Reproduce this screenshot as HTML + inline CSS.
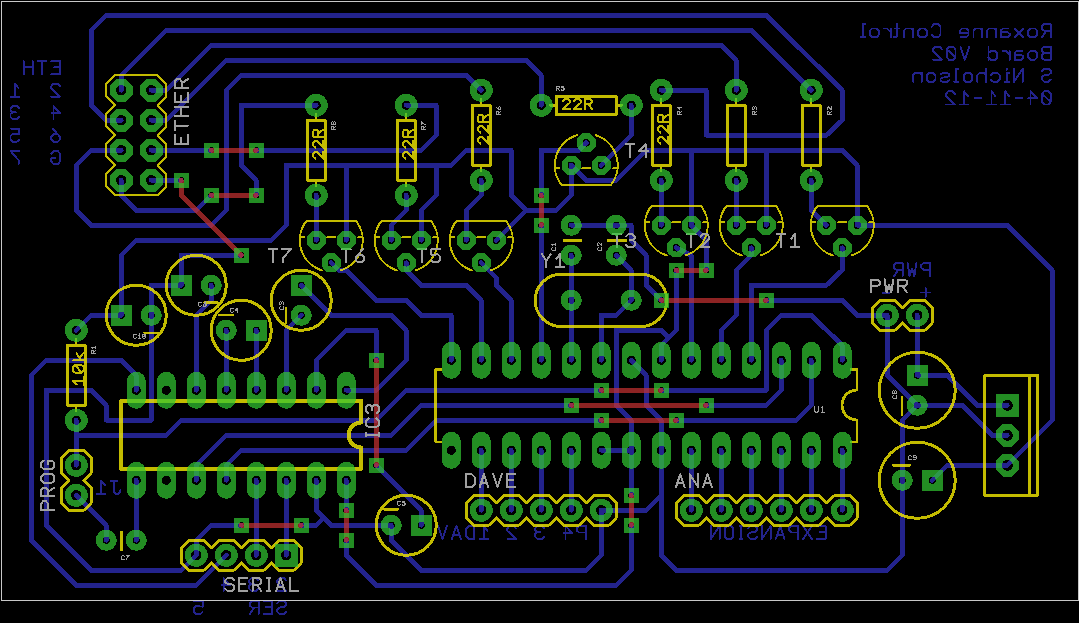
<!DOCTYPE html><html><head><meta charset="utf-8"><title>Roxanne Control Board V02</title>
<style>html,body{margin:0;padding:0;background:#000;overflow:hidden;font-family:"Liberation Sans",sans-serif}svg{display:block}</style></head><body>
<svg width="1079" height="623" viewBox="0 0 1079 623" shape-rendering="crispEdges">
<rect width="1079" height="623" fill="#000"/>
<g opacity="0.706" fill="none" stroke="#3232c8" stroke-width="4.8" stroke-linecap="round" stroke-linejoin="round"><path d="M121.25,120.3L106.25,120.3L91.25,105.3L91.25,30.3L106.25,15.3L766.25,15.3L842.25,90.3L842.25,120.3L826.25,135.3L706.25,135.3L706.25,90.3L661.25,90.3M121.25,90.3L121.25,75.3L166.25,30.3L751.25,30.3L811.25,90.3M151.25,90.3L166.25,90.3L211.25,45.3L721.25,45.3L736.25,60.3L736.25,90.3M151.25,120.3L166.25,120.3L226.25,60.3L526.25,60.3L541.25,75.3L541.25,105.3M481.25,90.3L466.25,75.3L241.25,75.3L226.25,90.3L226.25,210.3L211.25,225.3L91.25,225.3L76.25,210.3L76.25,165.3L91.25,150.3L121.25,150.3M316.25,105.3L241.25,105.3L241.25,165.3L256.25,180.3L256.25,195.3M151.25,150.3L211.25,150.3M151.25,180.3L181.25,180.3M121.25,180.3L121.25,195.3L136.25,210.3L196.25,210.3L211.25,195.3M256.25,150.3L421.25,150.3L436.25,135.3L436.25,105.3L406.25,105.3M121.25,315.3L121.25,255.3L136.25,240.3L271.25,240.3L286.25,225.3L286.25,165.3L451.25,165.3L466.25,150.3L511.25,150.3L511.25,195.3L526.25,210.3L556.25,210.3L571.25,195.3L571.25,165.3M346.25,165.3L346.25,240.3M436.25,165.3L436.25,195.3L421.25,210.3L421.25,240.3M526.25,210.3L496.25,240.3M316.25,195.3L316.25,240.3M406.25,195.3L406.25,210.3L391.25,225.3L391.25,240.3M481.25,180.3L481.25,195.3L466.25,210.3L466.25,240.3M241.25,255.3L181.25,255.3L181.25,285.3L151.25,285.3L151.25,420.3L106.25,420.3L106.25,405.3L91.25,390.3L46.25,390.3L46.25,525.3L91.25,570.3L181.25,570.3L196.25,555.3M76.25,330.3L91.25,315.3L121.25,315.3M136.25,390.3L136.25,375.3L121.25,360.3L46.25,360.3L31.25,375.3L31.25,540.3L76.25,585.3L196.25,585.3L226.25,555.3M211.25,285.3L211.25,300.3L196.25,315.3L196.25,390.3M226.25,330.3L226.25,390.3M256.25,330.3L256.25,390.3M76.25,420.3L76.25,465.3M76.25,435.3L166.25,435.3L181.25,420.3L376.25,420.3L406.25,390.3L601.25,390.3M76.25,495.3L106.25,525.3L106.25,540.3M136.25,540.3L136.25,480.3M196.25,480.3L196.25,465.3L226.25,435.3L391.25,435.3L421.25,405.3L571.25,405.3M226.25,480.3L226.25,465.3L241.25,450.3L406.25,450.3L436.25,420.3L601.25,420.3M256.25,480.3L256.25,555.3M286.25,480.3L286.25,555.3M241.25,525.3L211.25,525.3L196.25,540.3L196.25,555.3M316.25,480.3L316.25,510.3L331.25,525.3L391.25,525.3M301.25,525.3L316.25,525.3L323.75,517.8M346.25,480.3L346.25,510.3M346.25,540.3L346.25,555.3L376.25,585.3L616.25,585.3L631.25,570.3L631.25,525.3M391.25,525.3L391.25,540.3L421.25,570.3L586.25,570.3L601.25,555.3L601.25,510.3M376.25,465.3L421.25,510.3L421.25,525.3M301.25,285.3L331.25,315.3L391.25,315.3L406.25,330.3L406.25,360.3L376.25,390.3L346.25,390.3M301.25,315.3L286.25,330.3L286.25,390.3M376.25,360.3L376.25,330.3L346.25,330.3L316.25,360.3L316.25,390.3M331.25,262.8L338.75,270.3L346.25,270.3L376.25,300.3L406.25,300.3L421.25,315.3L451.25,315.3L451.25,360.3M406.25,262.8L406.25,270.3L421.25,285.3L466.25,285.3L481.25,300.3L481.25,360.3M481.25,262.8L496.25,277.8L496.25,285.3L511.25,300.3L511.25,360.3M631.25,105.3L631.25,135.3L601.25,165.3M586.25,142.8L578.75,150.3L541.25,150.3L541.25,195.3M571.25,165.3L586.25,180.3L616.25,180.3L646.25,150.3L842.25,150.3L857.25,165.3L857.25,225.3M691.25,150.3L691.25,225.3M766.25,150.3L766.25,225.3M541.25,225.3L541.25,360.3M571.25,225.3L631.25,225.3L631.25,240.3L646.25,255.3L646.25,285.3L661.25,300.3M571.25,255.3L571.25,360.3M616.25,255.3L631.25,270.3L631.25,300.3L616.25,315.3L601.25,315.3L601.25,360.3M676.25,270.3L676.25,330.3L661.25,345.3L661.25,360.3M668.75,337.8L661.25,330.3L616.25,330.3L616.25,405.3L631.25,420.3L631.25,495.3M676.25,247.8L691.25,255.3L691.25,360.3M691.25,225.3L706.25,240.3L706.25,270.3M661.25,180.3L661.25,225.3M736.25,180.3L736.25,225.3M751.25,247.8L751.25,255.3L736.25,270.3L736.25,315.3L721.25,330.3L721.25,360.3M842.25,247.8L842.25,270.3L826.25,285.3L751.25,285.3L751.25,360.3M811.25,180.3L811.25,210.3L826.25,225.3M857.25,225.3L1007.25,225.3L1052.25,270.3L1052.25,420.3L1007.25,465.3M766.25,300.3L842.25,300.3L857.25,315.3L887.25,315.3M842.25,360.3L842.25,345.3L811.25,315.3L781.25,315.3L766.25,330.3L766.25,390.3L661.25,390.3M781.25,360.3L781.25,390.3L766.25,405.3L706.25,405.3M676.25,420.3L796.25,420.3L811.25,405.3L811.25,360.3M631.25,360.3L646.25,375.3L646.25,405.3L661.25,420.3L661.25,555.3L676.25,570.3L887.25,570.3L902.25,555.3L902.25,420.3L917.25,405.3M661.25,495.3L646.25,510.3L601.25,510.3M601.25,450.3L631.25,450.3M887.25,315.3L887.25,375.3L917.25,405.3M917.25,315.3L917.25,375.3L947.25,375.3L977.25,405.3L1007.25,405.3M917.25,405.3L962.25,405.3L992.25,435.3L1007.25,435.3M932.25,480.3L947.25,465.3L1007.25,465.3M481.25,450.3L481.25,510.3M511.25,450.3L511.25,510.3M541.25,450.3L541.25,510.3M571.25,450.3L571.25,510.3M691.25,450.3L691.25,510.3M721.25,450.3L721.25,510.3M751.25,450.3L751.25,510.3M781.25,450.3L781.25,510.3M811.25,450.3L811.25,510.3M842.25,450.3L842.25,510.3"/></g>
<g opacity="0.706" fill="none" stroke="#3232c8" stroke-linecap="round" stroke-linejoin="round"><path d="M51.32,74.35L60.05,74.35L60.05,61.25L51.32,61.25M60.05,67.36L53.94,67.36M46.34,61.25L37.61,61.25M41.97,61.25L41.97,74.35M32.63,74.35L32.63,61.25M23.89,74.35L23.89,61.25M32.63,67.36L23.89,67.36" stroke-width="1.9"/><path d="M18.59,88.13L14.88,83.55L14.88,96.65M19.25,96.65L10.52,96.65" stroke-width="1.9"/><path d="M60.05,86.17L57.87,83.55L53.5,83.55L51.32,86.17L51.32,88.35L60.05,96.65L51.32,96.65" stroke-width="1.9"/><path d="M19.25,108.23L17.07,106.05L12.7,106.05L10.52,108.23L10.52,110.42L12.7,112.16L15.76,112.16M12.7,112.16L10.52,113.91L10.52,116.97L12.7,119.15L17.07,119.15L19.25,116.97" stroke-width="1.9"/><path d="M53.5,119.15L53.5,106.05L60.05,113.04L51.32,113.04" stroke-width="1.9"/><path d="M10.52,128.55L19.25,128.55L19.25,134.23L12.7,133.79L10.52,135.97L10.52,139.47L12.7,141.65L17.07,141.65L19.25,139.47" stroke-width="1.9"/><path d="M52.63,128.55L60.05,136.85L60.05,139.47L57.87,141.65L53.5,141.65L51.32,139.47L51.32,136.41L53.5,134.23L57.87,134.23L60.05,136.85" stroke-width="1.9"/><path d="M19.25,151.05L10.52,151.05L18.59,160.22L18.59,164.15" stroke-width="1.9"/><path d="M51.32,153.67L53.5,151.05L57.87,151.05L60.05,153.67L60.05,161.53L57.87,164.15L53.5,164.15L51.32,161.53L51.32,158.04L55.25,158.04" stroke-width="1.9"/><path d="M1050.75,37.25L1050.75,24.15L1044.2,24.15L1042.02,25.9L1042.02,28.95L1044.2,30.7L1050.75,30.7M1046.38,30.7L1042.02,37.25M1034.86,37.25L1037.04,35.07L1037.04,30.7L1034.86,28.52L1030.49,28.52L1028.31,30.7L1028.31,35.07L1030.49,37.25L1034.86,37.25M1023.33,37.25L1014.59,28.52M1023.33,28.52L1014.59,37.25M1008.31,28.52L1003.07,28.52L1000.88,30.26L1000.88,37.25M1000.88,32.23L1007.43,32.23L1009.62,33.76L1009.62,35.72L1007.43,37.25L1000.88,37.25M995.9,37.25L995.9,28.52M995.9,30.26L994.16,28.52L988.92,28.52L987.17,30.26L987.17,37.25M982.19,37.25L982.19,28.52M982.19,30.26L980.45,28.52L975.21,28.52L973.46,30.26L973.46,37.25M968.48,32.66L959.75,32.66L959.75,30.7L961.93,28.52L966.3,28.52L968.48,30.7L968.48,35.07L966.3,37.25L960.62,37.25M931.78,26.77L933.96,24.15L938.33,24.15L940.51,26.77L940.51,34.63L938.33,37.25L933.96,37.25L931.78,34.63M924.62,37.25L926.8,35.07L926.8,30.7L924.62,28.52L920.25,28.52L918.07,30.7L918.07,35.07L920.25,37.25L924.62,37.25M913.09,37.25L913.09,28.52M913.09,30.26L911.34,28.52L906.1,28.52L904.36,30.26L904.36,37.25M897.2,24.15L897.2,35.5L895.45,37.25L893.92,37.25M899.38,28.52L895.01,28.52M891.02,37.25L891.02,28.52M891.02,32.45L887.09,28.52L883.81,28.52M876.43,37.25L878.62,35.07L878.62,30.7L876.43,28.52L872.07,28.52L869.88,30.7L869.88,35.07L872.07,37.25L876.43,37.25M864.9,24.15L862.72,24.15L862.72,37.25M864.9,37.25L860.54,37.25" stroke-width="1.9"/><path d="M1050.75,59.75L1050.75,46.65L1044.2,46.65L1042.02,48.4L1042.02,51.02L1044.2,52.76L1050.75,52.76M1044.2,52.76L1042.02,54.51L1042.02,58L1044.2,59.75L1050.75,59.75M1034.86,59.75L1037.04,57.57L1037.04,53.2L1034.86,51.02L1030.49,51.02L1028.31,53.2L1028.31,57.57L1030.49,59.75L1034.86,59.75M1022.02,51.02L1016.78,51.02L1014.59,52.76L1014.59,59.75M1014.59,54.73L1021.14,54.73L1023.33,56.26L1023.33,58.22L1021.14,59.75L1014.59,59.75M1009.62,59.75L1009.62,51.02M1009.62,54.95L1005.69,51.02L1002.41,51.02M988.48,46.65L988.48,59.75M988.48,53.2L990.66,51.02L995.03,51.02L997.21,53.2L997.21,57.57L995.03,59.75L990.66,59.75L988.48,57.57M969.25,46.65L964.88,59.75L960.51,46.65M953.35,59.75L955.53,57.13L955.53,49.27L953.35,46.65L948.98,46.65L946.8,49.27L946.8,57.13L948.98,59.75L953.35,59.75M955.53,57.13L946.8,49.27M941.82,49.27L939.64,46.65L935.27,46.65L933.09,49.27L933.09,51.45L941.82,59.75L933.09,59.75" stroke-width="1.9"/><path d="M1042.02,70.83L1044.2,68.65L1048.57,68.65L1050.75,70.83L1050.75,73.02L1048.57,74.76L1044.2,75.2L1042.02,76.95L1042.02,79.57L1044.2,81.75L1048.57,81.75L1050.75,79.57M1022.78,81.75L1022.78,68.65L1014.05,81.75L1014.05,68.65M1009.07,73.02L1006.89,73.02L1006.89,81.75M1009.07,81.75L1004.7,81.75M1006.89,69.74L1006.89,68.65M990.99,74.76L993.18,73.02L997.54,73.02L999.73,75.2L999.73,79.57L997.54,81.75L993.18,81.75L990.99,80M986.01,68.65L986.01,81.75M986.01,75.2L983.83,73.02L979.46,73.02L977.28,75.2L977.28,81.75M970.12,81.75L972.3,79.57L972.3,75.2L970.12,73.02L965.75,73.02L963.57,75.2L963.57,79.57L965.75,81.75L970.12,81.75M958.59,68.65L956.41,68.65L956.41,81.75M958.59,81.75L954.22,81.75M940.51,74.33L942.7,73.02L947.06,73.02L949.25,74.33L949.25,75.86L947.06,77.17L942.7,77.6L940.51,78.91L940.51,80.44L942.7,81.75L947.06,81.75L949.25,80.44M933.35,81.75L935.54,79.57L935.54,75.2L933.35,73.02L928.99,73.02L926.8,75.2L926.8,79.57L928.99,81.75L933.35,81.75M921.82,81.75L921.82,73.02M921.82,74.76L920.08,73.02L914.84,73.02L913.09,74.76L913.09,81.75" stroke-width="1.9"/><path d="M1048.57,104.45L1050.75,101.83L1050.75,93.97L1048.57,91.35L1044.2,91.35L1042.02,93.97L1042.02,101.83L1044.2,104.45L1048.57,104.45M1050.75,101.83L1042.02,93.97M1030.49,104.45L1030.49,91.35L1037.04,98.34L1028.31,98.34M1022.45,97.9L1015.47,97.9M1008.96,95.94L1005.25,91.35L1005.25,104.45M1009.62,104.45L1000.88,104.45M995.25,95.94L991.54,91.35L991.54,104.45M995.9,104.45L987.17,104.45M981.32,97.9L974.33,97.9M967.83,95.94L964.12,91.35L964.12,104.45M968.48,104.45L959.75,104.45M954.77,93.97L952.59,91.35L948.22,91.35L946.04,93.97L946.04,96.15L954.77,104.45L946.04,104.45" stroke-width="1.9"/><path d="M930.05,276.25L930.05,263.15L923.5,263.15L921.32,264.9L921.32,267.95L923.5,269.7L930.05,269.7M916.34,263.15L914.37,276.25L911.97,268.39L909.57,276.25L907.61,263.15M902.63,276.25L902.63,263.15L896.08,263.15L893.89,264.9L893.89,267.95L896.08,269.7L902.63,269.7M898.26,269.7L893.89,276.25" stroke-width="1.9"/><path d="M930.05,292.5L921.32,292.5M925.68,296.87L925.68,288.13" stroke-width="1.9"/><path d="M889.68,293L882.69,293" stroke-width="1.9"/><path d="M120.45,490.36L119.36,492.98L117.83,493.85L115.65,493.85L114.12,491.89L114.12,480.75M117.39,480.75L110.62,480.75M104.99,485.34L101.28,480.75L101.28,493.85M105.65,493.85L96.91,493.85" stroke-width="1.9"/><path d="M585.75,539.05L585.75,525.95L579.2,525.95L577.02,527.7L577.02,530.75L579.2,532.5L585.75,532.5M565.49,539.05L565.49,525.95L572.04,532.94L563.31,532.94M544.07,528.13L541.89,525.95L537.52,525.95L535.34,528.13L535.34,530.32L537.52,532.06L540.58,532.06M537.52,532.06L535.34,533.81L535.34,536.87L537.52,539.05L541.89,539.05L544.07,536.87M516.1,528.57L513.92,525.95L509.55,525.95L507.37,528.57L507.37,530.75L516.1,539.05L507.37,539.05M487.48,530.53L483.77,525.95L483.77,539.05M488.13,539.05L479.4,539.05M474.42,539.05L474.42,525.95L468.75,525.95L465.69,529.01L465.69,535.99L468.75,539.05L474.42,539.05M460.71,539.05L456.34,525.95L451.98,539.05M459.18,534.68L453.51,534.68M447,525.95L442.63,539.05L438.27,525.95" stroke-width="1.9"/><path d="M816.82,539.05L825.55,539.05L825.55,525.95L816.82,525.95M825.55,532.06L819.44,532.06M811.84,539.05L803.11,525.95M811.84,525.95L803.11,539.05M798.13,539.05L798.13,525.95L791.58,525.95L789.39,527.7L789.39,530.75L791.58,532.5L798.13,532.5M784.42,539.05L780.05,525.95L775.68,539.05M782.89,534.68L777.21,534.68M770.7,539.05L770.7,525.95L761.97,539.05L761.97,525.95M748.26,528.13L750.44,525.95L754.81,525.95L756.99,528.13L756.99,530.32L754.81,532.06L750.44,532.5L748.26,534.25L748.26,536.87L750.44,539.05L754.81,539.05L756.99,536.87M740.77,539.05L740.77,525.95M742.19,539.05L739.35,539.05M742.19,525.95L739.35,525.95M731.1,539.05L733.28,536.43L733.28,528.57L731.1,525.95L726.73,525.95L724.55,528.57L724.55,536.43L726.73,539.05L731.1,539.05M719.57,539.05L719.57,525.95L710.84,539.05L710.84,525.95" stroke-width="1.9"/><path d="M286.05,580.57L283.87,577.95L279.5,577.95L277.32,580.57L277.32,582.75L286.05,591.05L277.32,591.05M258.08,580.13L255.9,577.95L251.53,577.95L249.35,580.13L249.35,582.32L251.53,584.06L254.59,584.06M251.53,584.06L249.35,585.81L249.35,588.87L251.53,591.05L255.9,591.05L258.08,588.87M223.56,591.05L223.56,577.95L230.11,584.94L221.38,584.94" stroke-width="1.9"/><path d="M277.32,603.13L279.5,600.95L283.87,600.95L286.05,603.13L286.05,605.32L283.87,607.06L279.5,607.5L277.32,609.25L277.32,611.87L279.5,614.05L283.87,614.05L286.05,611.87M263.61,614.05L272.34,614.05L272.34,600.95L263.61,600.95M272.34,607.06L266.23,607.06M258.63,614.05L258.63,600.95L252.08,600.95L249.89,602.7L249.89,605.75L252.08,607.5L258.63,607.5M254.26,607.5L249.89,614.05" stroke-width="1.9"/><path d="M193.82,600.95L202.55,600.95L202.55,606.63L196,606.19L193.82,608.37L193.82,611.87L196,614.05L200.37,614.05L202.55,611.87" stroke-width="1.9"/></g>
<g opacity="0.706" fill="none" stroke="#c83232" stroke-width="4.8" stroke-linecap="round" stroke-linejoin="round"><path d="M211.25,150.3L256.25,150.3M211.25,195.3L256.25,195.3M181.25,180.3L181.25,195.3L241.25,255.3M376.25,360.3L376.25,465.3M241.25,525.3L301.25,525.3M346.25,510.3L346.25,540.3M541.25,195.3L541.25,225.3M676.25,270.3L706.25,270.3M661.25,300.3L766.25,300.3M601.25,390.3L661.25,390.3M571.25,405.3L706.25,405.3M601.25,420.3L676.25,420.3M631.25,495.3L631.25,525.3"/></g>
<g opacity="0.8" fill="none" stroke="#f4ea00" stroke-linecap="round" stroke-linejoin="round"><path d="M157.55,75.3L166.25,84L166.25,96.6L157.55,105.3L166.25,114L166.25,126.6L157.55,135.3L166.25,144L166.25,156.6L157.55,165.3L166.25,174L166.25,186.6L157.55,195.3L114.95,195.3L106.25,186.6L106.25,174L114.95,165.3L106.25,156.6L106.25,144L114.95,135.3L106.25,126.6L106.25,114L114.95,105.3L106.25,96.6L106.25,84L114.95,75.3z" stroke-width="2"/><path d="M83.75,450.3L91.25,457.8L91.25,472.8L83.75,480.3L91.25,487.8L91.25,502.8L83.75,510.3L68.75,510.3L61.25,502.8L61.25,487.8L68.75,480.3L61.25,472.8L61.25,457.8L68.75,450.3z" stroke-width="2.8"/><path d="M181.25,547.8L188.75,540.3L203.75,540.3L211.25,547.8L218.75,540.3L233.75,540.3L241.25,547.8L248.75,540.3L263.75,540.3L271.25,547.8L278.75,540.3L293.75,540.3L301.25,547.8L301.25,562.8L293.75,570.3L278.75,570.3L271.25,562.8L263.75,570.3L248.75,570.3L241.25,562.8L233.75,570.3L218.75,570.3L211.25,562.8L203.75,570.3L188.75,570.3L181.25,562.8z" stroke-width="2.8"/><path d="M466.25,502.8L473.75,495.3L488.75,495.3L496.25,502.8L503.75,495.3L518.75,495.3L526.25,502.8L533.75,495.3L548.75,495.3L556.25,502.8L563.75,495.3L578.75,495.3L586.25,502.8L593.75,495.3L608.75,495.3L616.25,502.8L616.25,517.8L608.75,525.3L593.75,525.3L586.25,517.8L578.75,525.3L563.75,525.3L556.25,517.8L548.75,525.3L533.75,525.3L526.25,517.8L518.75,525.3L503.75,525.3L496.25,517.8L488.75,525.3L473.75,525.3L466.25,517.8z" stroke-width="2.8"/><path d="M676.25,502.8L683.75,495.3L698.75,495.3L706.25,502.8L713.75,495.3L728.75,495.3L736.25,502.8L743.75,495.3L758.75,495.3L766.25,502.8L773.75,495.3L788.75,495.3L796.25,502.8L803.75,495.3L818.75,495.3L826.25,502.8L834.75,495.3L849.75,495.3L857.25,502.8L857.25,517.8L849.75,525.3L834.75,525.3L827.25,517.8L818.75,525.3L803.75,525.3L796.25,517.8L788.75,525.3L773.75,525.3L766.25,517.8L758.75,525.3L743.75,525.3L736.25,517.8L728.75,525.3L713.75,525.3L706.25,517.8L698.75,525.3L683.75,525.3L676.25,517.8z" stroke-width="2.8"/><path d="M872.25,307.8L879.75,300.3L894.75,300.3L902.25,307.8L909.75,300.3L924.75,300.3L932.25,307.8L932.25,322.8L924.75,330.3L909.75,330.3L902.25,322.8L894.75,330.3L879.75,330.3L872.25,322.8z" stroke-width="2.8"/><rect x="67.25" y="345.4" width="18" height="59.8" stroke-width="3"/><path d="M76.25,345.3L76.25,339.3" stroke-width="2.4"/><path d="M76.25,405.3L76.25,411.3" stroke-width="2.4"/><rect x="307.25" y="120.4" width="18" height="59.8" stroke-width="3"/><path d="M316.25,120.3L316.25,114.3" stroke-width="2.4"/><path d="M316.25,180.3L316.25,186.3" stroke-width="2.4"/><rect x="397.25" y="120.4" width="18" height="59.8" stroke-width="3"/><path d="M406.25,120.3L406.25,114.3" stroke-width="2.4"/><path d="M406.25,180.3L406.25,186.3" stroke-width="2.4"/><rect x="472.25" y="105.4" width="18" height="59.8" stroke-width="3"/><path d="M481.25,105.3L481.25,99.3" stroke-width="2.4"/><path d="M481.25,165.3L481.25,171.3" stroke-width="2.4"/><rect x="652.25" y="105.4" width="18" height="59.8" stroke-width="3"/><path d="M661.25,105.3L661.25,99.3" stroke-width="2.4"/><path d="M661.25,165.3L661.25,171.3" stroke-width="2.4"/><rect x="727.25" y="105.4" width="18" height="59.8" stroke-width="3"/><path d="M736.25,105.3L736.25,99.3" stroke-width="2.4"/><path d="M736.25,165.3L736.25,171.3" stroke-width="2.4"/><rect x="802.25" y="105.4" width="18" height="59.8" stroke-width="3"/><path d="M811.25,105.3L811.25,99.3" stroke-width="2.4"/><path d="M811.25,165.3L811.25,171.3" stroke-width="2.4"/><rect x="556.35" y="96.3" width="59.8" height="18" stroke-width="3"/><path d="M556.25,105.3L550.25,105.3" stroke-width="2.4"/><path d="M616.25,105.3L622.25,105.3" stroke-width="2.4"/><circle cx="136.25" cy="315.3" r="30" stroke-width="3"/><circle cx="196.25" cy="285.3" r="30" stroke-width="3"/><circle cx="241.25" cy="330.3" r="30" stroke-width="3"/><circle cx="406.25" cy="525.3" r="30" stroke-width="3"/><circle cx="301.25" cy="300.3" r="30" stroke-width="3"/><circle cx="917.25" cy="390.3" r="38" stroke-width="3"/><circle cx="917.25" cy="480.3" r="38" stroke-width="3"/><path d="M144.5,332.8L158,332.8" stroke-width="2.4"/><path d="M204.5,302.3L217.5,302.3" stroke-width="2.4"/><path d="M219,314.8L233,314.8" stroke-width="2.4"/><path d="M285.8,308L285.8,323" stroke-width="2.4"/><path d="M384,509.3L398,509.3" stroke-width="2.4"/><path d="M902,397L902,414.5" stroke-width="2.4"/><path d="M893,465.3L910,465.3" stroke-width="2.4"/><path d="M121.8,532L121.8,550" stroke-width="3"/><path d="M564,240.6L581,240.6" stroke-width="3"/><path d="M608,240.6L625.6,240.6" stroke-width="3"/><rect x="535.2" y="274.2" width="131.6" height="52.4" rx="26.2" stroke-width="3"/><path d="M306.55,220.8L355.95,220.8" stroke-width="2.2"/><path d="M306.55,220.8A31.5,31.5 0 0,0 321.95,270.4" stroke-width="2"/><path d="M355.95,220.8A31.5,31.5 0 0,1 340.55,270.4" stroke-width="2"/><path d="M299.85,237.3L304.65,237.3" stroke-width="1.8"/><path d="M327.05,237.3L335.45,237.3" stroke-width="1.8"/><path d="M357.85,237.3L362.65,237.3" stroke-width="1.8"/><path d="M381.55,220.8L430.95,220.8" stroke-width="2.2"/><path d="M381.55,220.8A31.5,31.5 0 0,0 396.95,270.4" stroke-width="2"/><path d="M430.95,220.8A31.5,31.5 0 0,1 415.55,270.4" stroke-width="2"/><path d="M374.85,237.3L379.65,237.3" stroke-width="1.8"/><path d="M402.05,237.3L410.45,237.3" stroke-width="1.8"/><path d="M432.85,237.3L437.65,237.3" stroke-width="1.8"/><path d="M456.55,220.8L505.95,220.8" stroke-width="2.2"/><path d="M456.55,220.8A31.5,31.5 0 0,0 471.95,270.4" stroke-width="2"/><path d="M505.95,220.8A31.5,31.5 0 0,1 490.55,270.4" stroke-width="2"/><path d="M449.85,237.3L454.65,237.3" stroke-width="1.8"/><path d="M477.05,237.3L485.45,237.3" stroke-width="1.8"/><path d="M507.85,237.3L512.65,237.3" stroke-width="1.8"/><path d="M561.55,184.8L610.95,184.8" stroke-width="2.2"/><path d="M561.55,184.8A31.5,31.5 0 0,1 576.95,135.2" stroke-width="2"/><path d="M610.95,184.8A31.5,31.5 0 0,0 595.55,135.2" stroke-width="2"/><path d="M554.85,168.3L559.65,168.3" stroke-width="1.8"/><path d="M582.05,168.3L590.45,168.3" stroke-width="1.8"/><path d="M612.85,168.3L617.65,168.3" stroke-width="1.8"/><path d="M651.55,205.8L700.95,205.8" stroke-width="2.2"/><path d="M651.55,205.8A31.5,31.5 0 0,0 666.95,255.4" stroke-width="2"/><path d="M700.95,205.8A31.5,31.5 0 0,1 685.55,255.4" stroke-width="2"/><path d="M644.85,222.3L649.65,222.3" stroke-width="1.8"/><path d="M672.05,222.3L680.45,222.3" stroke-width="1.8"/><path d="M702.85,222.3L707.65,222.3" stroke-width="1.8"/><path d="M726.55,205.8L775.95,205.8" stroke-width="2.2"/><path d="M726.55,205.8A31.5,31.5 0 0,0 741.95,255.4" stroke-width="2"/><path d="M775.95,205.8A31.5,31.5 0 0,1 760.55,255.4" stroke-width="2"/><path d="M719.85,222.3L724.65,222.3" stroke-width="1.8"/><path d="M747.05,222.3L755.45,222.3" stroke-width="1.8"/><path d="M777.85,222.3L782.65,222.3" stroke-width="1.8"/><path d="M817.55,205.8L866.95,205.8" stroke-width="2.2"/><path d="M817.55,205.8A31.5,31.5 0 0,0 832.95,255.4" stroke-width="2"/><path d="M866.95,205.8A31.5,31.5 0 0,1 851.55,255.4" stroke-width="2"/><path d="M810.85,222.3L815.65,222.3" stroke-width="1.8"/><path d="M838.05,222.3L846.45,222.3" stroke-width="1.8"/><path d="M868.85,222.3L873.65,222.3" stroke-width="1.8"/><path d="M361,400.9L121.1,400.9L121.1,469L361,469L361,447.5A12.5,12.5 0 0,1 361,422.5L361,400.9" stroke-width="4"/><path d="M441,369.5L435.8,369.5L435.8,442L441,442" stroke-width="2.8"/><path d="M851,369.5L857,369.5L857,390A15,15 0 0,0 857,420L857,442L851,442" stroke-width="2.8"/><rect x="984.7" y="375.6" width="52.8" height="119.6" stroke-width="3"/><path d="M1029.7,376L1029.7,495" stroke-width="3"/><path d="M315.35,158.6L313.35,156.85L313.35,153.35L315.35,151.6L317.02,151.6L323.35,158.6L323.35,151.6M315.35,147.61L313.35,145.86L313.35,142.36L315.35,140.61L317.02,140.61L323.35,147.61L323.35,140.61M323.35,136.62L313.35,136.62L313.35,131.37L314.68,129.62L317.02,129.62L318.35,131.37L318.35,136.62M318.35,133.12L323.35,129.62" stroke-width="2"/><path d="M405.35,158.6L403.35,156.85L403.35,153.35L405.35,151.6L407.02,151.6L413.35,158.6L413.35,151.6M405.35,147.61L403.35,145.86L403.35,142.36L405.35,140.61L407.02,140.61L413.35,147.61L413.35,140.61M413.35,136.62L403.35,136.62L403.35,131.37L404.68,129.62L407.02,129.62L408.35,131.37L408.35,136.62M408.35,133.12L413.35,129.62" stroke-width="2"/><path d="M480.35,143.6L478.35,141.85L478.35,138.35L480.35,136.6L482.02,136.6L488.35,143.6L488.35,136.6M480.35,132.61L478.35,130.86L478.35,127.36L480.35,125.61L482.02,125.61L488.35,132.61L488.35,125.61M488.35,121.62L478.35,121.62L478.35,116.37L479.68,114.62L482.02,114.62L483.35,116.37L483.35,121.62M483.35,118.12L488.35,114.62" stroke-width="2"/><path d="M660.35,143.6L658.35,141.85L658.35,138.35L660.35,136.6L662.02,136.6L668.35,143.6L668.35,136.6M660.35,132.61L658.35,130.86L658.35,127.36L660.35,125.61L662.02,125.61L668.35,132.61L668.35,125.61M668.35,121.62L658.35,121.62L658.35,116.37L659.68,114.62L662.02,114.62L663.35,116.37L663.35,121.62M663.35,118.12L668.35,114.62" stroke-width="2"/><path d="M562.9,101L564.65,99L568.15,99L569.9,101L569.9,102.67L562.9,109L569.9,109M573.89,101L575.64,99L579.14,99L580.89,101L580.89,102.67L573.89,109L580.89,109M584.88,109L584.88,99L590.13,99L591.88,100.33L591.88,102.67L590.13,104L584.88,104M588.38,104L591.88,109" stroke-width="2"/><path d="M76.67,384.41L73,381.08L83.5,381.08M83.5,385L83.5,377.16M83.5,370.73L81.4,372.69L75.1,372.69L73,370.73L73,366.81L75.1,364.85L81.4,364.85L83.5,366.81L83.5,370.73M81.4,372.69L75.1,364.85M73,360.38L83.5,360.38M76.5,353.33L81.05,360.38M79.3,357.64L83.5,352.93" stroke-width="2"/></g>
<g opacity="1" fill="none" stroke="#a0a0a0" stroke-linecap="round" stroke-linejoin="round"><path d="M188,135.07L188,144L175,144L175,135.07M181.07,144L181.07,137.75M175,129.99L175,121.06M175,125.52L188,125.52M188,115.97L175,115.97M188,107.04L175,107.04M181.07,115.97L181.07,107.04M188,93.03L188,101.96L175,101.96L175,93.03M181.07,101.96L181.07,95.71M188,87.94L175,87.94L175,81.25L176.73,79.01L179.77,79.01L181.5,81.25L181.5,87.94M181.5,83.48L188,79.01" stroke-width="2"/><path d="M268.5,249.2L277.17,249.2M272.83,249.2L272.83,262.2M282.11,249.2L290.77,249.2L282.76,258.3L282.76,262.2" stroke-width="2"/><path d="M342,249.2L350.67,249.2M346.33,249.2L346.33,262.2M362.97,249.2L355.61,257.43L355.61,260.03L357.77,262.2L362.11,262.2L364.27,260.03L364.27,257L362.11,254.83L357.77,254.83L355.61,257.43" stroke-width="2"/><path d="M417.8,249.2L426.47,249.2M422.13,249.2L422.13,262.2M440.07,249.2L431.41,249.2L431.41,254.83L437.91,254.4L440.07,256.57L440.07,260.03L437.91,262.2L433.57,262.2L431.41,260.03" stroke-width="2"/><path d="M625.5,144.2L634.17,144.2M629.83,144.2L629.83,157.2M645.61,157.2L645.61,144.2L639.11,151.13L647.77,151.13" stroke-width="2"/><path d="M612.5,234.2L621.17,234.2M616.83,234.2L616.83,247.2M626.11,236.37L628.27,234.2L632.61,234.2L634.77,236.37L634.77,238.53L632.61,240.27L629.57,240.27M632.61,240.27L634.77,242L634.77,245.03L632.61,247.2L628.27,247.2L626.11,245.03" stroke-width="2"/><path d="M687,234.2L695.67,234.2M691.33,234.2L691.33,247.2M700.61,236.8L702.77,234.2L707.11,234.2L709.27,236.8L709.27,238.97L700.61,247.2L709.27,247.2" stroke-width="2"/><path d="M777,234L785.67,234M781.33,234L781.33,247M791.26,238.55L794.94,234L794.94,247M790.61,247L799.27,247" stroke-width="2"/><path d="M542,254.3L546.33,260.8L550.67,254.3M546.33,260.8L546.33,267.3M556.26,258.85L559.94,254.3L559.94,267.3M555.61,267.3L564.27,267.3" stroke-width="2"/><path d="M871,292.5L871,279.5L877.5,279.5L879.67,281.23L879.67,284.27L877.5,286L871,286M884.61,279.5L886.56,292.5L888.94,284.7L891.32,292.5L893.27,279.5M898.21,292.5L898.21,279.5L904.71,279.5L906.88,281.23L906.88,284.27L904.71,286L898.21,286M902.55,286L906.88,292.5" stroke-width="2"/><path d="M466,487.2L466,474.2L471.63,474.2L474.67,477.23L474.67,484.17L471.63,487.2L466,487.2M479.61,487.2L483.94,474.2L488.27,487.2M481.12,482.87L486.76,482.87M493.21,474.2L497.55,487.2L501.88,474.2M515.49,487.2L506.82,487.2L506.82,474.2L515.49,474.2M506.82,480.27L512.89,480.27" stroke-width="2"/><path d="M676,487.2L680.33,474.2L684.67,487.2M677.52,482.87L683.15,482.87M689.61,487.2L689.61,474.2L698.27,487.2L698.27,474.2M703.21,487.2L707.55,474.2L711.88,487.2M704.73,482.87L710.36,482.87" stroke-width="2"/><path d="M234.07,580.17L231.9,578L227.57,578L225.4,580.17L225.4,582.33L227.57,584.07L231.9,584.5L234.07,586.23L234.07,588.83L231.9,591L227.57,591L225.4,588.83M247.67,591L239.01,591L239.01,578L247.67,578M239.01,584.07L245.07,584.07M252.61,591L252.61,578L259.11,578L261.28,579.73L261.28,582.77L259.11,584.5L252.61,584.5M256.95,584.5L261.28,591M268.71,591L268.71,578M267.3,591L270.12,591M267.3,578L270.12,578M276.14,591L280.48,578L284.81,591M277.66,586.67L283.29,586.67M289.75,578L289.75,591L298.42,591" stroke-width="2"/><path d="M54.3,510L41.3,510L41.3,503.5L43.03,501.33L46.07,501.33L47.8,503.5L47.8,510M54.3,496.39L41.3,496.39L41.3,489.89L43.03,487.73L46.07,487.73L47.8,489.89L47.8,496.39M47.8,492.06L54.3,487.73M54.3,480.62L51.7,482.79L43.9,482.79L41.3,480.62L41.3,476.29L43.9,474.12L51.7,474.12L54.3,476.29L54.3,480.62M43.9,460.51L41.3,462.68L41.3,467.01L43.9,469.18L51.7,469.18L54.3,467.01L54.3,462.68L51.7,460.51L48.23,460.51L48.23,464.41" stroke-width="2"/><path d="M379,434.51L366,434.51M379,435.92L379,433.1M366,435.92L366,433.1M368.6,418.41L366,420.58L366,424.91L368.6,427.08L376.4,427.08L379,424.91L379,420.58L376.4,418.41M368.17,413.47L366,411.3L366,406.97L368.17,404.8L370.33,404.8L372.07,406.97L372.07,410M372.07,406.97L373.8,404.8L376.83,404.8L379,406.97L379,411.3L376.83,413.47" stroke-width="2"/><path d="M95.9,353.5L91.5,353.5L91.5,351.3L92.09,350.57L93.11,350.57L93.7,351.3L93.7,353.5M93.7,352.03L95.9,350.57M93.04,348.67L91.5,347.43L95.9,347.43M95.9,348.89L95.9,345.96" stroke-width="1"/><path d="M335.9,129.5L331.5,129.5L331.5,127.3L332.09,126.57L333.11,126.57L333.7,127.3L333.7,129.5M333.7,128.03L335.9,126.57M333.55,124.16L332.97,124.89L332.23,124.89L331.5,124.16L331.5,122.69L332.23,121.96L332.97,121.96L333.55,122.69L333.55,124.16L334.29,124.89L335.17,124.89L335.9,124.16L335.9,122.69L335.17,121.96L334.29,121.96L333.55,122.69" stroke-width="1"/><path d="M425.9,129.5L421.5,129.5L421.5,127.3L422.09,126.57L423.11,126.57L423.7,127.3L423.7,129.5M423.7,128.03L425.9,126.57M421.5,124.89L421.5,121.96L424.58,124.67L425.9,124.67" stroke-width="1"/><path d="M500.9,114.5L496.5,114.5L496.5,112.3L497.09,111.57L498.11,111.57L498.7,112.3L498.7,114.5M498.7,113.03L500.9,111.57M496.5,107.4L499.29,109.89L500.17,109.89L500.9,109.16L500.9,107.69L500.17,106.96L499.14,106.96L498.41,107.69L498.41,109.16L499.29,109.89" stroke-width="1"/><path d="M556.5,90.4L556.5,86L558.7,86L559.43,86.59L559.43,87.61L558.7,88.2L556.5,88.2M557.97,88.2L559.43,90.4M564.04,86L561.11,86L561.11,87.91L563.31,87.76L564.04,88.49L564.04,89.67L563.31,90.4L561.84,90.4L561.11,89.67" stroke-width="1"/><path d="M681.9,114.5L677.5,114.5L677.5,112.3L678.09,111.57L679.11,111.57L679.7,112.3L679.7,114.5M679.7,113.03L681.9,111.57M681.9,107.69L677.5,107.69L679.85,109.89L679.85,106.96" stroke-width="1"/><path d="M756.9,114.5L752.5,114.5L752.5,112.3L753.09,111.57L754.11,111.57L754.7,112.3L754.7,114.5M754.7,113.03L756.9,111.57M753.23,109.89L752.5,109.16L752.5,107.69L753.23,106.96L753.97,106.96L754.55,107.69L754.55,108.72M754.55,107.69L755.14,106.96L756.17,106.96L756.9,107.69L756.9,109.16L756.17,109.89" stroke-width="1"/><path d="M831.4,114.5L827,114.5L827,112.3L827.59,111.57L828.61,111.57L829.2,112.3L829.2,114.5M829.2,113.03L831.4,111.57M827.88,109.89L827,109.16L827,107.69L827.88,106.96L828.61,106.96L831.4,109.89L831.4,106.96" stroke-width="1"/><path d="M136.43,334.88L135.7,334L134.23,334L133.5,334.88L133.5,337.52L134.23,338.4L135.7,338.4L136.43,337.52M138.33,335.54L139.57,334L139.57,338.4M138.11,338.4L141.04,338.4M143.44,338.4L142.71,337.52L142.71,334.88L143.44,334L144.91,334L145.64,334.88L145.64,337.52L144.91,338.4L143.44,338.4M142.71,337.52L145.64,334.88" stroke-width="1"/><path d="M201.43,302.88L200.7,302L199.23,302L198.5,302.88L198.5,305.52L199.23,306.4L200.7,306.4L201.43,305.52M205.6,302L203.11,304.79L203.11,305.67L203.84,306.4L205.31,306.4L206.04,305.67L206.04,304.64L205.31,303.91L203.84,303.91L203.11,304.79" stroke-width="1"/><path d="M233.43,308.88L232.7,308L231.23,308L230.5,308.88L230.5,311.52L231.23,312.4L232.7,312.4L233.43,311.52M237.31,312.4L237.31,308L235.11,310.35L238.04,310.35" stroke-width="1"/><path d="M280.38,306.57L279.5,307.3L279.5,308.77L280.38,309.5L283.02,309.5L283.9,308.77L283.9,307.3L283.02,306.57M280.23,304.89L279.5,304.16L279.5,302.69L280.23,301.96L280.97,301.96L281.55,302.69L281.55,303.72M281.55,302.69L282.14,301.96L283.17,301.96L283.9,302.69L283.9,304.16L283.17,304.89" stroke-width="1"/><path d="M400.43,501.88L399.7,501L398.23,501L397.5,501.88L397.5,504.52L398.23,505.4L399.7,505.4L400.43,504.52M405.04,501L402.11,501L402.11,502.91L404.31,502.76L405.04,503.49L405.04,504.67L404.31,505.4L402.84,505.4L402.11,504.67" stroke-width="1"/><path d="M124.43,556.38L123.7,555.5L122.23,555.5L121.5,556.38L121.5,559.02L122.23,559.9L123.7,559.9L124.43,559.02M126.11,555.5L129.04,555.5L126.33,558.58L126.33,559.9" stroke-width="1"/><path d="M893.38,395.57L892.5,396.3L892.5,397.77L893.38,398.5L896.02,398.5L896.9,397.77L896.9,396.3L896.02,395.57M894.55,393.16L893.97,393.89L893.23,393.89L892.5,393.16L892.5,391.69L893.23,390.96L893.97,390.96L894.55,391.69L894.55,393.16L895.29,393.89L896.17,393.89L896.9,393.16L896.9,391.69L896.17,390.96L895.29,390.96L894.55,391.69" stroke-width="1"/><path d="M911.43,456.38L910.7,455.5L909.23,455.5L908.5,456.38L908.5,459.02L909.23,459.9L910.7,459.9L911.43,459.02M913.11,459.17L913.84,459.9L915.31,459.9L916.04,459.17L916.04,456.23L915.31,455.5L913.84,455.5L913.11,456.23L913.11,457.26L913.84,457.99L916.04,457.99" stroke-width="1"/><path d="M552.38,247.57L551.5,248.3L551.5,249.77L552.38,250.5L555.02,250.5L555.9,249.77L555.9,248.3L555.02,247.57M553.04,245.67L551.5,244.43L555.9,244.43M555.9,245.89L555.9,242.96" stroke-width="1"/><path d="M598.38,247.57L597.5,248.3L597.5,249.77L598.38,250.5L601.02,250.5L601.9,249.77L601.9,248.3L601.02,247.57M598.38,245.89L597.5,245.16L597.5,243.69L598.38,242.96L599.11,242.96L601.9,245.89L601.9,242.96" stroke-width="1"/><path d="M814.5,406L814.5,410.8L815.5,412L817.5,412L818.5,410.8L818.5,406M821.08,408.1L822.78,406L822.78,412M820.78,412L824.78,412" stroke-width="1"/></g>
<g opacity="0.706" fill="#32c832" fill-rule="evenodd"><path d="M116.59,79.05L125.91,79.05L132.5,85.64L132.5,94.96L125.91,101.55L116.59,101.55L110,94.96L110,85.64zM116,90.3a5.25,5.25 0 1,0 10.5,0a5.25,5.25 0 1,0 -10.5,0z"/><path d="M116.59,109.05L125.91,109.05L132.5,115.64L132.5,124.96L125.91,131.55L116.59,131.55L110,124.96L110,115.64zM116,120.3a5.25,5.25 0 1,0 10.5,0a5.25,5.25 0 1,0 -10.5,0z"/><path d="M116.59,139.05L125.91,139.05L132.5,145.64L132.5,154.96L125.91,161.55L116.59,161.55L110,154.96L110,145.64zM116,150.3a5.25,5.25 0 1,0 10.5,0a5.25,5.25 0 1,0 -10.5,0z"/><path d="M116.59,169.05L125.91,169.05L132.5,175.64L132.5,184.96L125.91,191.55L116.59,191.55L110,184.96L110,175.64zM116,180.3a5.25,5.25 0 1,0 10.5,0a5.25,5.25 0 1,0 -10.5,0z"/><path d="M146.59,79.05L155.91,79.05L162.5,85.64L162.5,94.96L155.91,101.55L146.59,101.55L140,94.96L140,85.64zM146,90.3a5.25,5.25 0 1,0 10.5,0a5.25,5.25 0 1,0 -10.5,0z"/><path d="M146.59,109.05L155.91,109.05L162.5,115.64L162.5,124.96L155.91,131.55L146.59,131.55L140,124.96L140,115.64zM146,120.3a5.25,5.25 0 1,0 10.5,0a5.25,5.25 0 1,0 -10.5,0z"/><path d="M146.59,139.05L155.91,139.05L162.5,145.64L162.5,154.96L155.91,161.55L146.59,161.55L140,154.96L140,145.64zM146,150.3a5.25,5.25 0 1,0 10.5,0a5.25,5.25 0 1,0 -10.5,0z"/><path d="M146.59,169.05L155.91,169.05L162.5,175.64L162.5,184.96L155.91,191.55L146.59,191.55L140,184.96L140,175.64zM146,180.3a5.25,5.25 0 1,0 10.5,0a5.25,5.25 0 1,0 -10.5,0z"/><path d="M64.75,465.3a11.5,11.5 0 1,0 23,0a11.5,11.5 0 1,0 -23,0zM71,465.3a5.25,5.25 0 1,0 10.5,0a5.25,5.25 0 1,0 -10.5,0z"/><path d="M64.75,495.3a11.5,11.5 0 1,0 23,0a11.5,11.5 0 1,0 -23,0zM71,495.3a5.25,5.25 0 1,0 10.5,0a5.25,5.25 0 1,0 -10.5,0z"/><path d="M184.75,555.3a11.5,11.5 0 1,0 23,0a11.5,11.5 0 1,0 -23,0zM191,555.3a5.25,5.25 0 1,0 10.5,0a5.25,5.25 0 1,0 -10.5,0z"/><path d="M214.75,555.3a11.5,11.5 0 1,0 23,0a11.5,11.5 0 1,0 -23,0zM221,555.3a5.25,5.25 0 1,0 10.5,0a5.25,5.25 0 1,0 -10.5,0z"/><path d="M244.75,555.3a11.5,11.5 0 1,0 23,0a11.5,11.5 0 1,0 -23,0zM251,555.3a5.25,5.25 0 1,0 10.5,0a5.25,5.25 0 1,0 -10.5,0z"/><path d="M274.75,543.8h23v23h-23zM281,555.3a5.25,5.25 0 1,0 10.5,0a5.25,5.25 0 1,0 -10.5,0z"/><path d="M469.75,510.3a11.5,11.5 0 1,0 23,0a11.5,11.5 0 1,0 -23,0zM476,510.3a5.25,5.25 0 1,0 10.5,0a5.25,5.25 0 1,0 -10.5,0z"/><path d="M499.75,510.3a11.5,11.5 0 1,0 23,0a11.5,11.5 0 1,0 -23,0zM506,510.3a5.25,5.25 0 1,0 10.5,0a5.25,5.25 0 1,0 -10.5,0z"/><path d="M529.75,510.3a11.5,11.5 0 1,0 23,0a11.5,11.5 0 1,0 -23,0zM536,510.3a5.25,5.25 0 1,0 10.5,0a5.25,5.25 0 1,0 -10.5,0z"/><path d="M559.75,510.3a11.5,11.5 0 1,0 23,0a11.5,11.5 0 1,0 -23,0zM566,510.3a5.25,5.25 0 1,0 10.5,0a5.25,5.25 0 1,0 -10.5,0z"/><path d="M589.75,510.3a11.5,11.5 0 1,0 23,0a11.5,11.5 0 1,0 -23,0zM596,510.3a5.25,5.25 0 1,0 10.5,0a5.25,5.25 0 1,0 -10.5,0z"/><path d="M679.75,510.3a11.5,11.5 0 1,0 23,0a11.5,11.5 0 1,0 -23,0zM686,510.3a5.25,5.25 0 1,0 10.5,0a5.25,5.25 0 1,0 -10.5,0z"/><path d="M709.75,510.3a11.5,11.5 0 1,0 23,0a11.5,11.5 0 1,0 -23,0zM716,510.3a5.25,5.25 0 1,0 10.5,0a5.25,5.25 0 1,0 -10.5,0z"/><path d="M739.75,510.3a11.5,11.5 0 1,0 23,0a11.5,11.5 0 1,0 -23,0zM746,510.3a5.25,5.25 0 1,0 10.5,0a5.25,5.25 0 1,0 -10.5,0z"/><path d="M769.75,510.3a11.5,11.5 0 1,0 23,0a11.5,11.5 0 1,0 -23,0zM776,510.3a5.25,5.25 0 1,0 10.5,0a5.25,5.25 0 1,0 -10.5,0z"/><path d="M799.75,510.3a11.5,11.5 0 1,0 23,0a11.5,11.5 0 1,0 -23,0zM806,510.3a5.25,5.25 0 1,0 10.5,0a5.25,5.25 0 1,0 -10.5,0z"/><path d="M830.75,510.3a11.5,11.5 0 1,0 23,0a11.5,11.5 0 1,0 -23,0zM837,510.3a5.25,5.25 0 1,0 10.5,0a5.25,5.25 0 1,0 -10.5,0z"/><path d="M875.75,315.3a11.5,11.5 0 1,0 23,0a11.5,11.5 0 1,0 -23,0zM882,315.3a5.25,5.25 0 1,0 10.5,0a5.25,5.25 0 1,0 -10.5,0z"/><path d="M905.75,315.3a11.5,11.5 0 1,0 23,0a11.5,11.5 0 1,0 -23,0zM912,315.3a5.25,5.25 0 1,0 10.5,0a5.25,5.25 0 1,0 -10.5,0z"/><path d="M64.75,330.3a11.5,11.5 0 1,0 23,0a11.5,11.5 0 1,0 -23,0zM71.75,330.3a4.5,4.5 0 1,0 9,0a4.5,4.5 0 1,0 -9,0z"/><path d="M64.75,420.3a11.5,11.5 0 1,0 23,0a11.5,11.5 0 1,0 -23,0zM71.75,420.3a4.5,4.5 0 1,0 9,0a4.5,4.5 0 1,0 -9,0z"/><path d="M304.75,105.3a11.5,11.5 0 1,0 23,0a11.5,11.5 0 1,0 -23,0zM311.75,105.3a4.5,4.5 0 1,0 9,0a4.5,4.5 0 1,0 -9,0z"/><path d="M304.75,195.3a11.5,11.5 0 1,0 23,0a11.5,11.5 0 1,0 -23,0zM311.75,195.3a4.5,4.5 0 1,0 9,0a4.5,4.5 0 1,0 -9,0z"/><path d="M394.75,105.3a11.5,11.5 0 1,0 23,0a11.5,11.5 0 1,0 -23,0zM401.75,105.3a4.5,4.5 0 1,0 9,0a4.5,4.5 0 1,0 -9,0z"/><path d="M394.75,195.3a11.5,11.5 0 1,0 23,0a11.5,11.5 0 1,0 -23,0zM401.75,195.3a4.5,4.5 0 1,0 9,0a4.5,4.5 0 1,0 -9,0z"/><path d="M469.75,90.3a11.5,11.5 0 1,0 23,0a11.5,11.5 0 1,0 -23,0zM476.75,90.3a4.5,4.5 0 1,0 9,0a4.5,4.5 0 1,0 -9,0z"/><path d="M469.75,180.3a11.5,11.5 0 1,0 23,0a11.5,11.5 0 1,0 -23,0zM476.75,180.3a4.5,4.5 0 1,0 9,0a4.5,4.5 0 1,0 -9,0z"/><path d="M529.75,105.3a11.5,11.5 0 1,0 23,0a11.5,11.5 0 1,0 -23,0zM536.75,105.3a4.5,4.5 0 1,0 9,0a4.5,4.5 0 1,0 -9,0z"/><path d="M619.75,105.3a11.5,11.5 0 1,0 23,0a11.5,11.5 0 1,0 -23,0zM626.75,105.3a4.5,4.5 0 1,0 9,0a4.5,4.5 0 1,0 -9,0z"/><path d="M649.75,90.3a11.5,11.5 0 1,0 23,0a11.5,11.5 0 1,0 -23,0zM656.75,90.3a4.5,4.5 0 1,0 9,0a4.5,4.5 0 1,0 -9,0z"/><path d="M649.75,180.3a11.5,11.5 0 1,0 23,0a11.5,11.5 0 1,0 -23,0zM656.75,180.3a4.5,4.5 0 1,0 9,0a4.5,4.5 0 1,0 -9,0z"/><path d="M724.75,90.3a11.5,11.5 0 1,0 23,0a11.5,11.5 0 1,0 -23,0zM731.75,90.3a4.5,4.5 0 1,0 9,0a4.5,4.5 0 1,0 -9,0z"/><path d="M724.75,180.3a11.5,11.5 0 1,0 23,0a11.5,11.5 0 1,0 -23,0zM731.75,180.3a4.5,4.5 0 1,0 9,0a4.5,4.5 0 1,0 -9,0z"/><path d="M799.75,90.3a11.5,11.5 0 1,0 23,0a11.5,11.5 0 1,0 -23,0zM806.75,90.3a4.5,4.5 0 1,0 9,0a4.5,4.5 0 1,0 -9,0z"/><path d="M799.75,180.3a11.5,11.5 0 1,0 23,0a11.5,11.5 0 1,0 -23,0zM806.75,180.3a4.5,4.5 0 1,0 9,0a4.5,4.5 0 1,0 -9,0z"/><path d="M140.75,315.3a10.5,10.5 0 1,0 21,0a10.5,10.5 0 1,0 -21,0zM147.75,315.3a3.5,3.5 0 1,0 7,0a3.5,3.5 0 1,0 -7,0z"/><path d="M200.75,285.3a10.5,10.5 0 1,0 21,0a10.5,10.5 0 1,0 -21,0zM207.75,285.3a3.5,3.5 0 1,0 7,0a3.5,3.5 0 1,0 -7,0z"/><path d="M215.75,330.3a10.5,10.5 0 1,0 21,0a10.5,10.5 0 1,0 -21,0zM222.75,330.3a3.5,3.5 0 1,0 7,0a3.5,3.5 0 1,0 -7,0z"/><path d="M290.75,315.3a10.5,10.5 0 1,0 21,0a10.5,10.5 0 1,0 -21,0zM297.75,315.3a3.5,3.5 0 1,0 7,0a3.5,3.5 0 1,0 -7,0z"/><path d="M380.75,525.3a10.5,10.5 0 1,0 21,0a10.5,10.5 0 1,0 -21,0zM387.75,525.3a3.5,3.5 0 1,0 7,0a3.5,3.5 0 1,0 -7,0z"/><path d="M95.75,540.3a10.5,10.5 0 1,0 21,0a10.5,10.5 0 1,0 -21,0zM102.75,540.3a3.5,3.5 0 1,0 7,0a3.5,3.5 0 1,0 -7,0z"/><path d="M125.75,540.3a10.5,10.5 0 1,0 21,0a10.5,10.5 0 1,0 -21,0zM132.75,540.3a3.5,3.5 0 1,0 7,0a3.5,3.5 0 1,0 -7,0z"/><path d="M906.75,405.3a10.5,10.5 0 1,0 21,0a10.5,10.5 0 1,0 -21,0zM913.75,405.3a3.5,3.5 0 1,0 7,0a3.5,3.5 0 1,0 -7,0z"/><path d="M891.75,480.3a10.5,10.5 0 1,0 21,0a10.5,10.5 0 1,0 -21,0zM898.75,480.3a3.5,3.5 0 1,0 7,0a3.5,3.5 0 1,0 -7,0z"/><path d="M560.75,225.3a10.5,10.5 0 1,0 21,0a10.5,10.5 0 1,0 -21,0zM567.75,225.3a3.5,3.5 0 1,0 7,0a3.5,3.5 0 1,0 -7,0z"/><path d="M560.75,255.3a10.5,10.5 0 1,0 21,0a10.5,10.5 0 1,0 -21,0zM567.75,255.3a3.5,3.5 0 1,0 7,0a3.5,3.5 0 1,0 -7,0z"/><path d="M605.75,225.3a10.5,10.5 0 1,0 21,0a10.5,10.5 0 1,0 -21,0zM612.75,225.3a3.5,3.5 0 1,0 7,0a3.5,3.5 0 1,0 -7,0z"/><path d="M605.75,255.3a10.5,10.5 0 1,0 21,0a10.5,10.5 0 1,0 -21,0zM612.75,255.3a3.5,3.5 0 1,0 7,0a3.5,3.5 0 1,0 -7,0z"/><path d="M560.75,300.3a10.5,10.5 0 1,0 21,0a10.5,10.5 0 1,0 -21,0zM567.75,300.3a3.5,3.5 0 1,0 7,0a3.5,3.5 0 1,0 -7,0z"/><path d="M620.75,300.3a10.5,10.5 0 1,0 21,0a10.5,10.5 0 1,0 -21,0zM627.75,300.3a3.5,3.5 0 1,0 7,0a3.5,3.5 0 1,0 -7,0z"/><path d="M110.75,304.8h21v21h-21zM117.75,315.3a3.5,3.5 0 1,0 7,0a3.5,3.5 0 1,0 -7,0z"/><path d="M170.75,274.8h21v21h-21zM177.75,285.3a3.5,3.5 0 1,0 7,0a3.5,3.5 0 1,0 -7,0z"/><path d="M245.75,319.8h21v21h-21zM252.75,330.3a3.5,3.5 0 1,0 7,0a3.5,3.5 0 1,0 -7,0z"/><path d="M290.75,274.8h21v21h-21zM297.75,285.3a3.5,3.5 0 1,0 7,0a3.5,3.5 0 1,0 -7,0z"/><path d="M410.75,514.8h21v21h-21zM417.75,525.3a3.5,3.5 0 1,0 7,0a3.5,3.5 0 1,0 -7,0z"/><path d="M906.75,364.8h21v21h-21zM913.75,375.3a3.5,3.5 0 1,0 7,0a3.5,3.5 0 1,0 -7,0z"/><path d="M921.75,469.8h21v21h-21zM928.75,480.3a3.5,3.5 0 1,0 7,0a3.5,3.5 0 1,0 -7,0z"/><path d="M126.75,381.3a9.5,9.5 0 0,1 19,0v18a9.5,9.5 0 0,1 -19,0zM131.75,390.3a4.5,4.5 0 1,0 9,0a4.5,4.5 0 1,0 -9,0z"/><path d="M126.75,471.3a9.5,9.5 0 0,1 19,0v18a9.5,9.5 0 0,1 -19,0zM131.75,480.3a4.5,4.5 0 1,0 9,0a4.5,4.5 0 1,0 -9,0z"/><path d="M156.75,381.3a9.5,9.5 0 0,1 19,0v18a9.5,9.5 0 0,1 -19,0zM161.75,390.3a4.5,4.5 0 1,0 9,0a4.5,4.5 0 1,0 -9,0z"/><path d="M156.75,471.3a9.5,9.5 0 0,1 19,0v18a9.5,9.5 0 0,1 -19,0zM161.75,480.3a4.5,4.5 0 1,0 9,0a4.5,4.5 0 1,0 -9,0z"/><path d="M186.75,381.3a9.5,9.5 0 0,1 19,0v18a9.5,9.5 0 0,1 -19,0zM191.75,390.3a4.5,4.5 0 1,0 9,0a4.5,4.5 0 1,0 -9,0z"/><path d="M186.75,471.3a9.5,9.5 0 0,1 19,0v18a9.5,9.5 0 0,1 -19,0zM191.75,480.3a4.5,4.5 0 1,0 9,0a4.5,4.5 0 1,0 -9,0z"/><path d="M216.75,381.3a9.5,9.5 0 0,1 19,0v18a9.5,9.5 0 0,1 -19,0zM221.75,390.3a4.5,4.5 0 1,0 9,0a4.5,4.5 0 1,0 -9,0z"/><path d="M216.75,471.3a9.5,9.5 0 0,1 19,0v18a9.5,9.5 0 0,1 -19,0zM221.75,480.3a4.5,4.5 0 1,0 9,0a4.5,4.5 0 1,0 -9,0z"/><path d="M246.75,381.3a9.5,9.5 0 0,1 19,0v18a9.5,9.5 0 0,1 -19,0zM251.75,390.3a4.5,4.5 0 1,0 9,0a4.5,4.5 0 1,0 -9,0z"/><path d="M246.75,471.3a9.5,9.5 0 0,1 19,0v18a9.5,9.5 0 0,1 -19,0zM251.75,480.3a4.5,4.5 0 1,0 9,0a4.5,4.5 0 1,0 -9,0z"/><path d="M276.75,381.3a9.5,9.5 0 0,1 19,0v18a9.5,9.5 0 0,1 -19,0zM281.75,390.3a4.5,4.5 0 1,0 9,0a4.5,4.5 0 1,0 -9,0z"/><path d="M276.75,471.3a9.5,9.5 0 0,1 19,0v18a9.5,9.5 0 0,1 -19,0zM281.75,480.3a4.5,4.5 0 1,0 9,0a4.5,4.5 0 1,0 -9,0z"/><path d="M306.75,381.3a9.5,9.5 0 0,1 19,0v18a9.5,9.5 0 0,1 -19,0zM311.75,390.3a4.5,4.5 0 1,0 9,0a4.5,4.5 0 1,0 -9,0z"/><path d="M306.75,471.3a9.5,9.5 0 0,1 19,0v18a9.5,9.5 0 0,1 -19,0zM311.75,480.3a4.5,4.5 0 1,0 9,0a4.5,4.5 0 1,0 -9,0z"/><path d="M336.75,381.3a9.5,9.5 0 0,1 19,0v18a9.5,9.5 0 0,1 -19,0zM341.75,390.3a4.5,4.5 0 1,0 9,0a4.5,4.5 0 1,0 -9,0z"/><path d="M336.75,471.3a9.5,9.5 0 0,1 19,0v18a9.5,9.5 0 0,1 -19,0zM341.75,480.3a4.5,4.5 0 1,0 9,0a4.5,4.5 0 1,0 -9,0z"/><path d="M441.75,351.3a9.5,9.5 0 0,1 19,0v18a9.5,9.5 0 0,1 -19,0zM446.75,360.3a4.5,4.5 0 1,0 9,0a4.5,4.5 0 1,0 -9,0z"/><path d="M441.75,441.3a9.5,9.5 0 0,1 19,0v18a9.5,9.5 0 0,1 -19,0zM446.75,450.3a4.5,4.5 0 1,0 9,0a4.5,4.5 0 1,0 -9,0z"/><path d="M471.75,351.3a9.5,9.5 0 0,1 19,0v18a9.5,9.5 0 0,1 -19,0zM476.75,360.3a4.5,4.5 0 1,0 9,0a4.5,4.5 0 1,0 -9,0z"/><path d="M471.75,441.3a9.5,9.5 0 0,1 19,0v18a9.5,9.5 0 0,1 -19,0zM476.75,450.3a4.5,4.5 0 1,0 9,0a4.5,4.5 0 1,0 -9,0z"/><path d="M501.75,351.3a9.5,9.5 0 0,1 19,0v18a9.5,9.5 0 0,1 -19,0zM506.75,360.3a4.5,4.5 0 1,0 9,0a4.5,4.5 0 1,0 -9,0z"/><path d="M501.75,441.3a9.5,9.5 0 0,1 19,0v18a9.5,9.5 0 0,1 -19,0zM506.75,450.3a4.5,4.5 0 1,0 9,0a4.5,4.5 0 1,0 -9,0z"/><path d="M531.75,351.3a9.5,9.5 0 0,1 19,0v18a9.5,9.5 0 0,1 -19,0zM536.75,360.3a4.5,4.5 0 1,0 9,0a4.5,4.5 0 1,0 -9,0z"/><path d="M531.75,441.3a9.5,9.5 0 0,1 19,0v18a9.5,9.5 0 0,1 -19,0zM536.75,450.3a4.5,4.5 0 1,0 9,0a4.5,4.5 0 1,0 -9,0z"/><path d="M561.75,351.3a9.5,9.5 0 0,1 19,0v18a9.5,9.5 0 0,1 -19,0zM566.75,360.3a4.5,4.5 0 1,0 9,0a4.5,4.5 0 1,0 -9,0z"/><path d="M561.75,441.3a9.5,9.5 0 0,1 19,0v18a9.5,9.5 0 0,1 -19,0zM566.75,450.3a4.5,4.5 0 1,0 9,0a4.5,4.5 0 1,0 -9,0z"/><path d="M591.75,351.3a9.5,9.5 0 0,1 19,0v18a9.5,9.5 0 0,1 -19,0zM596.75,360.3a4.5,4.5 0 1,0 9,0a4.5,4.5 0 1,0 -9,0z"/><path d="M591.75,441.3a9.5,9.5 0 0,1 19,0v18a9.5,9.5 0 0,1 -19,0zM596.75,450.3a4.5,4.5 0 1,0 9,0a4.5,4.5 0 1,0 -9,0z"/><path d="M621.75,351.3a9.5,9.5 0 0,1 19,0v18a9.5,9.5 0 0,1 -19,0zM626.75,360.3a4.5,4.5 0 1,0 9,0a4.5,4.5 0 1,0 -9,0z"/><path d="M621.75,441.3a9.5,9.5 0 0,1 19,0v18a9.5,9.5 0 0,1 -19,0zM626.75,450.3a4.5,4.5 0 1,0 9,0a4.5,4.5 0 1,0 -9,0z"/><path d="M651.75,351.3a9.5,9.5 0 0,1 19,0v18a9.5,9.5 0 0,1 -19,0zM656.75,360.3a4.5,4.5 0 1,0 9,0a4.5,4.5 0 1,0 -9,0z"/><path d="M651.75,441.3a9.5,9.5 0 0,1 19,0v18a9.5,9.5 0 0,1 -19,0zM656.75,450.3a4.5,4.5 0 1,0 9,0a4.5,4.5 0 1,0 -9,0z"/><path d="M681.75,351.3a9.5,9.5 0 0,1 19,0v18a9.5,9.5 0 0,1 -19,0zM686.75,360.3a4.5,4.5 0 1,0 9,0a4.5,4.5 0 1,0 -9,0z"/><path d="M681.75,441.3a9.5,9.5 0 0,1 19,0v18a9.5,9.5 0 0,1 -19,0zM686.75,450.3a4.5,4.5 0 1,0 9,0a4.5,4.5 0 1,0 -9,0z"/><path d="M711.75,351.3a9.5,9.5 0 0,1 19,0v18a9.5,9.5 0 0,1 -19,0zM716.75,360.3a4.5,4.5 0 1,0 9,0a4.5,4.5 0 1,0 -9,0z"/><path d="M711.75,441.3a9.5,9.5 0 0,1 19,0v18a9.5,9.5 0 0,1 -19,0zM716.75,450.3a4.5,4.5 0 1,0 9,0a4.5,4.5 0 1,0 -9,0z"/><path d="M741.75,351.3a9.5,9.5 0 0,1 19,0v18a9.5,9.5 0 0,1 -19,0zM746.75,360.3a4.5,4.5 0 1,0 9,0a4.5,4.5 0 1,0 -9,0z"/><path d="M741.75,441.3a9.5,9.5 0 0,1 19,0v18a9.5,9.5 0 0,1 -19,0zM746.75,450.3a4.5,4.5 0 1,0 9,0a4.5,4.5 0 1,0 -9,0z"/><path d="M771.75,351.3a9.5,9.5 0 0,1 19,0v18a9.5,9.5 0 0,1 -19,0zM776.75,360.3a4.5,4.5 0 1,0 9,0a4.5,4.5 0 1,0 -9,0z"/><path d="M771.75,441.3a9.5,9.5 0 0,1 19,0v18a9.5,9.5 0 0,1 -19,0zM776.75,450.3a4.5,4.5 0 1,0 9,0a4.5,4.5 0 1,0 -9,0z"/><path d="M801.75,351.3a9.5,9.5 0 0,1 19,0v18a9.5,9.5 0 0,1 -19,0zM806.75,360.3a4.5,4.5 0 1,0 9,0a4.5,4.5 0 1,0 -9,0z"/><path d="M801.75,441.3a9.5,9.5 0 0,1 19,0v18a9.5,9.5 0 0,1 -19,0zM806.75,450.3a4.5,4.5 0 1,0 9,0a4.5,4.5 0 1,0 -9,0z"/><path d="M832.75,351.3a9.5,9.5 0 0,1 19,0v18a9.5,9.5 0 0,1 -19,0zM837.75,360.3a4.5,4.5 0 1,0 9,0a4.5,4.5 0 1,0 -9,0z"/><path d="M832.75,441.3a9.5,9.5 0 0,1 19,0v18a9.5,9.5 0 0,1 -19,0zM837.75,450.3a4.5,4.5 0 1,0 9,0a4.5,4.5 0 1,0 -9,0z"/><path d="M312.31,230.8L320.19,230.8L325.75,236.36L325.75,244.24L320.19,249.8L312.31,249.8L306.75,244.24L306.75,236.36zM312.5,240.3a3.75,3.75 0 1,0 7.5,0a3.75,3.75 0 1,0 -7.5,0z"/><path d="M342.31,230.8L350.19,230.8L355.75,236.36L355.75,244.24L350.19,249.8L342.31,249.8L336.75,244.24L336.75,236.36zM342.5,240.3a3.75,3.75 0 1,0 7.5,0a3.75,3.75 0 1,0 -7.5,0z"/><path d="M327.31,253.3L335.19,253.3L340.75,258.86L340.75,266.74L335.19,272.3L327.31,272.3L321.75,266.74L321.75,258.86zM327.5,262.8a3.75,3.75 0 1,0 7.5,0a3.75,3.75 0 1,0 -7.5,0z"/><path d="M387.31,230.8L395.19,230.8L400.75,236.36L400.75,244.24L395.19,249.8L387.31,249.8L381.75,244.24L381.75,236.36zM387.5,240.3a3.75,3.75 0 1,0 7.5,0a3.75,3.75 0 1,0 -7.5,0z"/><path d="M417.31,230.8L425.19,230.8L430.75,236.36L430.75,244.24L425.19,249.8L417.31,249.8L411.75,244.24L411.75,236.36zM417.5,240.3a3.75,3.75 0 1,0 7.5,0a3.75,3.75 0 1,0 -7.5,0z"/><path d="M402.31,253.3L410.19,253.3L415.75,258.86L415.75,266.74L410.19,272.3L402.31,272.3L396.75,266.74L396.75,258.86zM402.5,262.8a3.75,3.75 0 1,0 7.5,0a3.75,3.75 0 1,0 -7.5,0z"/><path d="M462.31,230.8L470.19,230.8L475.75,236.36L475.75,244.24L470.19,249.8L462.31,249.8L456.75,244.24L456.75,236.36zM462.5,240.3a3.75,3.75 0 1,0 7.5,0a3.75,3.75 0 1,0 -7.5,0z"/><path d="M492.31,230.8L500.19,230.8L505.75,236.36L505.75,244.24L500.19,249.8L492.31,249.8L486.75,244.24L486.75,236.36zM492.5,240.3a3.75,3.75 0 1,0 7.5,0a3.75,3.75 0 1,0 -7.5,0z"/><path d="M477.31,253.3L485.19,253.3L490.75,258.86L490.75,266.74L485.19,272.3L477.31,272.3L471.75,266.74L471.75,258.86zM477.5,262.8a3.75,3.75 0 1,0 7.5,0a3.75,3.75 0 1,0 -7.5,0z"/><path d="M567.31,155.8L575.19,155.8L580.75,161.36L580.75,169.24L575.19,174.8L567.31,174.8L561.75,169.24L561.75,161.36zM567.5,165.3a3.75,3.75 0 1,0 7.5,0a3.75,3.75 0 1,0 -7.5,0z"/><path d="M597.31,155.8L605.19,155.8L610.75,161.36L610.75,169.24L605.19,174.8L597.31,174.8L591.75,169.24L591.75,161.36zM597.5,165.3a3.75,3.75 0 1,0 7.5,0a3.75,3.75 0 1,0 -7.5,0z"/><path d="M582.31,133.3L590.19,133.3L595.75,138.86L595.75,146.74L590.19,152.3L582.31,152.3L576.75,146.74L576.75,138.86zM582.5,142.8a3.75,3.75 0 1,0 7.5,0a3.75,3.75 0 1,0 -7.5,0z"/><path d="M657.31,215.8L665.19,215.8L670.75,221.36L670.75,229.24L665.19,234.8L657.31,234.8L651.75,229.24L651.75,221.36zM657.5,225.3a3.75,3.75 0 1,0 7.5,0a3.75,3.75 0 1,0 -7.5,0z"/><path d="M687.31,215.8L695.19,215.8L700.75,221.36L700.75,229.24L695.19,234.8L687.31,234.8L681.75,229.24L681.75,221.36zM687.5,225.3a3.75,3.75 0 1,0 7.5,0a3.75,3.75 0 1,0 -7.5,0z"/><path d="M672.31,238.3L680.19,238.3L685.75,243.86L685.75,251.74L680.19,257.3L672.31,257.3L666.75,251.74L666.75,243.86zM672.5,247.8a3.75,3.75 0 1,0 7.5,0a3.75,3.75 0 1,0 -7.5,0z"/><path d="M732.31,215.8L740.19,215.8L745.75,221.36L745.75,229.24L740.19,234.8L732.31,234.8L726.75,229.24L726.75,221.36zM732.5,225.3a3.75,3.75 0 1,0 7.5,0a3.75,3.75 0 1,0 -7.5,0z"/><path d="M762.31,215.8L770.19,215.8L775.75,221.36L775.75,229.24L770.19,234.8L762.31,234.8L756.75,229.24L756.75,221.36zM762.5,225.3a3.75,3.75 0 1,0 7.5,0a3.75,3.75 0 1,0 -7.5,0z"/><path d="M747.31,238.3L755.19,238.3L760.75,243.86L760.75,251.74L755.19,257.3L747.31,257.3L741.75,251.74L741.75,243.86zM747.5,247.8a3.75,3.75 0 1,0 7.5,0a3.75,3.75 0 1,0 -7.5,0z"/><path d="M822.31,215.8L830.19,215.8L835.75,221.36L835.75,229.24L830.19,234.8L822.31,234.8L816.75,229.24L816.75,221.36zM822.5,225.3a3.75,3.75 0 1,0 7.5,0a3.75,3.75 0 1,0 -7.5,0z"/><path d="M853.31,215.8L861.19,215.8L866.75,221.36L866.75,229.24L861.19,234.8L853.31,234.8L847.75,229.24L847.75,221.36zM853.5,225.3a3.75,3.75 0 1,0 7.5,0a3.75,3.75 0 1,0 -7.5,0z"/><path d="M838.31,238.3L846.19,238.3L851.75,243.86L851.75,251.74L846.19,257.3L838.31,257.3L832.75,251.74L832.75,243.86zM838.5,247.8a3.75,3.75 0 1,0 7.5,0a3.75,3.75 0 1,0 -7.5,0z"/><path d="M995.75,393.8h23v23h-23zM1001.75,405.3a5.5,5.5 0 1,0 11,0a5.5,5.5 0 1,0 -11,0z"/><path d="M1002.59,424.05L1011.91,424.05L1018.5,430.64L1018.5,439.96L1011.91,446.55L1002.59,446.55L996,439.96L996,430.64zM1001.75,435.3a5.5,5.5 0 1,0 11,0a5.5,5.5 0 1,0 -11,0z"/><path d="M1002.59,454.05L1011.91,454.05L1018.5,460.64L1018.5,469.96L1011.91,476.55L1002.59,476.55L996,469.96L996,460.64zM1001.75,465.3a5.5,5.5 0 1,0 11,0a5.5,5.5 0 1,0 -11,0z"/><path d="M203.75,142.8h15v15h-15zM208.25,150.3a3,3 0 1,0 6,0a3,3 0 1,0 -6,0z"/><path d="M248.75,142.8h15v15h-15zM253.25,150.3a3,3 0 1,0 6,0a3,3 0 1,0 -6,0z"/><path d="M203.75,187.8h15v15h-15zM208.25,195.3a3,3 0 1,0 6,0a3,3 0 1,0 -6,0z"/><path d="M248.75,187.8h15v15h-15zM253.25,195.3a3,3 0 1,0 6,0a3,3 0 1,0 -6,0z"/><path d="M173.75,172.8h15v15h-15zM178.25,180.3a3,3 0 1,0 6,0a3,3 0 1,0 -6,0z"/><path d="M233.75,247.8h15v15h-15zM238.25,255.3a3,3 0 1,0 6,0a3,3 0 1,0 -6,0z"/><path d="M368.75,352.8h15v15h-15zM373.25,360.3a3,3 0 1,0 6,0a3,3 0 1,0 -6,0z"/><path d="M368.75,457.8h15v15h-15zM373.25,465.3a3,3 0 1,0 6,0a3,3 0 1,0 -6,0z"/><path d="M233.75,517.8h15v15h-15zM238.25,525.3a3,3 0 1,0 6,0a3,3 0 1,0 -6,0z"/><path d="M293.75,517.8h15v15h-15zM298.25,525.3a3,3 0 1,0 6,0a3,3 0 1,0 -6,0z"/><path d="M338.75,502.8h15v15h-15zM343.25,510.3a3,3 0 1,0 6,0a3,3 0 1,0 -6,0z"/><path d="M338.75,532.8h15v15h-15zM343.25,540.3a3,3 0 1,0 6,0a3,3 0 1,0 -6,0z"/><path d="M533.75,187.8h15v15h-15zM538.25,195.3a3,3 0 1,0 6,0a3,3 0 1,0 -6,0z"/><path d="M533.75,217.8h15v15h-15zM538.25,225.3a3,3 0 1,0 6,0a3,3 0 1,0 -6,0z"/><path d="M668.75,262.8h15v15h-15zM673.25,270.3a3,3 0 1,0 6,0a3,3 0 1,0 -6,0z"/><path d="M698.75,262.8h15v15h-15zM703.25,270.3a3,3 0 1,0 6,0a3,3 0 1,0 -6,0z"/><path d="M653.75,292.8h15v15h-15zM658.25,300.3a3,3 0 1,0 6,0a3,3 0 1,0 -6,0z"/><path d="M758.75,292.8h15v15h-15zM763.25,300.3a3,3 0 1,0 6,0a3,3 0 1,0 -6,0z"/><path d="M593.75,382.8h15v15h-15zM598.25,390.3a3,3 0 1,0 6,0a3,3 0 1,0 -6,0z"/><path d="M653.75,382.8h15v15h-15zM658.25,390.3a3,3 0 1,0 6,0a3,3 0 1,0 -6,0z"/><path d="M563.75,397.8h15v15h-15zM568.25,405.3a3,3 0 1,0 6,0a3,3 0 1,0 -6,0z"/><path d="M698.75,397.8h15v15h-15zM703.25,405.3a3,3 0 1,0 6,0a3,3 0 1,0 -6,0z"/><path d="M593.75,412.8h15v15h-15zM598.25,420.3a3,3 0 1,0 6,0a3,3 0 1,0 -6,0z"/><path d="M668.75,412.8h15v15h-15zM673.25,420.3a3,3 0 1,0 6,0a3,3 0 1,0 -6,0z"/><path d="M623.75,487.8h15v15h-15zM628.25,495.3a3,3 0 1,0 6,0a3,3 0 1,0 -6,0z"/><path d="M623.75,517.8h15v15h-15zM628.25,525.3a3,3 0 1,0 6,0a3,3 0 1,0 -6,0z"/></g>
<path d="M1.5,1.5H1078.5V600.5H1.5z" fill="none" stroke="#c8c8c8" stroke-width="1"/>
</svg></body></html>
